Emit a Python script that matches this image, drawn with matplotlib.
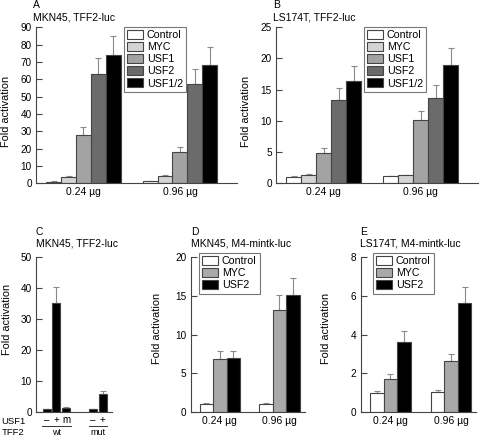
import numpy as np
import matplotlib
matplotlib.use("Agg")
import matplotlib.pyplot as plt
import matplotlib.transforms as mtransforms

plt.rcParams["font.family"] = ["Liberation Sans", "DejaVu Sans"]

W, H = 481, 440

# ---- data ----
groups = ["0.24 \u00b5g", "0.96 \u00b5g"]

# panel A: MKN45, TFF2-luc
series5 = ["Control", "MYC", "USF1", "USF2", "USF1/2"]
a_vals = [[1.0, 3.6, 28.0, 63.0, 74.0],
          [1.2, 4.0, 18.0, 57.0, 68.0]]
a_errs = [[0.3, 0.8, 4.5, 9.0, 11.0],
          [0.4, 0.6, 3.0, 9.0, 10.5]]

# panel B: LS174T, TFF2-luc
b_vals = [[1.0, 1.35, 4.8, 13.4, 16.4],
          [1.1, 1.25, 10.2, 13.6, 18.9]]
b_errs = [[0.15, 0.1, 0.9, 1.9, 2.4],
          [0.1, 0.1, 1.4, 2.1, 2.8]]

# panel C: MKN45, TFF2-luc, wt / mut promoter
c_usf1 = ["\u2013", "+", "m", "\u2013", "+"]
c_vals = [1.0, 35.2, 1.5, 1.0, 5.8]
c_errs = [0.1, 5.2, 0.3, 0.2, 0.9]

# panels D and E: M4-mintk-luc
series3 = ["Control", "MYC", "USF2"]
d_vals = [[1.1, 6.8, 7.0],
          [1.1, 13.1, 15.1]]
d_errs = [[0.1, 1.1, 0.9],
          [0.1, 2.0, 2.1]]
e_vals = [[0.98, 1.72, 3.62],
          [1.02, 2.62, 5.6]]
e_errs = [[0.13, 0.27, 0.55],
          [0.15, 0.4, 0.85]]

colors5 = ["white", "#d4d4d4", "#a3a3a3", "#6b6b6b", "black"]
colors3 = ["white", "#a9a9a9", "black"]
EDGE = "#444444"
ERRC = "#8a8a8a"

fig = plt.figure(figsize=(W / 100, H / 100), dpi=100)


def px_axes(left, top, right, bottom):
    return fig.add_axes([left / W, 1 - bottom / H, (right - left) / W, (bottom - top) / H])


def style(ax, ymax, step):
    for s in ["top", "right"]:
        ax.spines[s].set_visible(False)
    for s in ["left", "bottom"]:
        ax.spines[s].set_color(EDGE)
        ax.spines[s].set_linewidth(0.8)
    ax.set_ylim(0, ymax)
    ax.set_yticks(np.arange(0, ymax + step / 2, step))
    ax.tick_params(axis="y", direction="in", length=4, width=0.8, color=EDGE,
                   labelsize=7.2, pad=3)
    ax.tick_params(axis="x", length=0, labelsize=7.5, pad=3)
    ax.set_ylabel("Fold activation", fontsize=7.8)


def grouped(ax, vals, errs, colors, labels, width):
    n = len(colors)
    x = np.arange(len(groups))
    for i in range(n):
        pos = x + (i - (n - 1) / 2) * width
        v = [vals[g][i] for g in range(len(groups))]
        e = [errs[g][i] for g in range(len(groups))]
        ax.bar(pos, v, width, color=colors[i], edgecolor=EDGE, linewidth=0.8,
               label=labels[i], zorder=2)
        ax.errorbar(pos, v, yerr=[np.zeros(len(e)), e], fmt="none", ecolor=ERRC,
                    elinewidth=0.8, capsize=2.5, capthick=0.8, zorder=1)
    ax.set_xticks(x)
    ax.set_xticklabels(groups)


def legend(ax, left, top):
    lg = ax.legend(loc="upper left", bbox_to_anchor=(left / W, 1 - top / H),
                   bbox_transform=fig.transFigure, fontsize=7.7, frameon=True,
                   fancybox=False, borderaxespad=0, borderpad=0.3,
                   labelspacing=0.18, handlelength=1.45, handleheight=0.9,
                   handletextpad=0.4)
    lg.get_frame().set_edgecolor("#555555")
    lg.get_frame().set_linewidth(0.8)


def titles(x, y, letter, name):
    fig.text(x / W, 1 - y / H, letter, fontsize=7.5, va="center", ha="left")
    fig.text(x / W, 1 - (y + 12) / H, name, fontsize=7.5, va="center", ha="left")


# ---- A ----
axA = px_axes(36, 27.3, 237, 183.3)
grouped(axA, a_vals, a_errs, colors5, series5, 0.155)
axA.set_xlim(-0.492, 1.591)
style(axA, 90, 10)
axA.yaxis.set_label_coords(-25 / 201, 0.46)
legend(axA, 124, 27)
titles(33, 5, "A", "MKN45, TFF2-luc")

# ---- B ----
axB = px_axes(276, 27.3, 478, 183.3)
grouped(axB, b_vals, b_errs, colors5, series5, 0.155)
axB.set_xlim(-0.492, 1.591)
style(axB, 25, 5)
axB.yaxis.set_label_coords(-25 / 202, 0.46)
legend(axB, 364, 27)
titles(273, 5, "B", "LS174T, TFF2-luc")

# ---- C ----
axC = px_axes(36, 256.7, 111.7, 412.3)
c_pos = [0, 0.98, 2.0, 4.74, 5.71]
axC.bar(c_pos, c_vals, 0.82, color="black", edgecolor=EDGE, linewidth=0.8, zorder=2)
axC.errorbar(c_pos, c_vals, yerr=[np.zeros(len(c_errs)), c_errs], fmt="none",
             ecolor=ERRC, elinewidth=0.8, capsize=2.5, capthick=0.8, zorder=1)
axC.set_xlim(-1.09, 6.63)
style(axC, 50, 10)
axC.set_xticks(c_pos)
axC.set_xticklabels(c_usf1, fontsize=7)
axC.tick_params(axis="x", pad=2)
axC.yaxis.set_label_coords(-24 / 75.7, 0.6)
trans = mtransforms.blended_transform_factory(axC.transData, fig.transFigure)
for lo, hi, lab in [(c_pos[0] - 0.45, c_pos[2] + 0.45, "wt"),
                    (c_pos[3] - 0.45, c_pos[4] + 0.45, "mut")]:
    axC.plot([lo, hi], [1 - 426 / H] * 2, color="#333333", lw=0.7,
             transform=trans, clip_on=False)
    axC.text((lo + hi) / 2, 1 - 432 / H, lab, transform=trans, fontsize=6.5,
             ha="center", va="center")
fig.text(25 / W, 1 - 421 / H, "USF1", fontsize=6.8, ha="right", va="center")
fig.text(25 / W, 1 - 432 / H, "TFF2", fontsize=6.8, ha="right", va="center")
titles(36, 231.5, "C", "MKN45, TFF2-luc")

# ---- D ----
axD = px_axes(190.7, 256.7, 305, 412.3)
grouped(axD, d_vals, d_errs, colors3, series3, 0.227)
axD.set_xlim(-0.49, 1.43)
style(axD, 20, 5)
axD.yaxis.set_label_coords(-29 / 114.3, 0.54)
legend(axD, 199, 253)
titles(191, 231.5, "D", "MKN45, M4-mintk-luc")

# ---- E ----
axE = px_axes(360.7, 256.7, 476, 412.3)
grouped(axE, e_vals, e_errs, colors3, series3, 0.223)
axE.set_xlim(-0.49, 1.41)
style(axE, 8, 2)
axE.yaxis.set_label_coords(-30 / 115.3, 0.54)
legend(axE, 373, 253)
titles(360, 231.5, "E", "LS174T, M4-mintk-luc")

fig.savefig("out.png", dpi=100)
